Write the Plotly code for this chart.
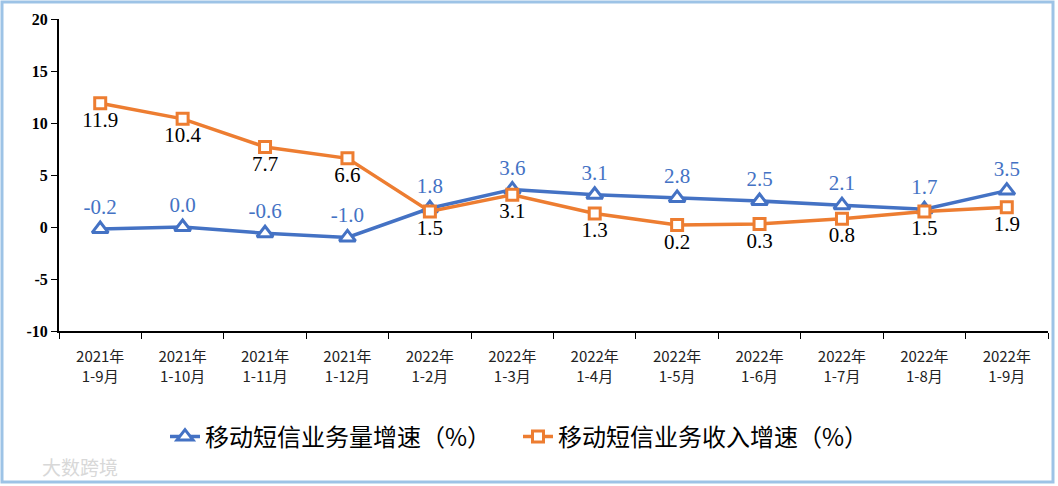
import plotly.graph_objects as go

categories = ["2021年<br>1-9月", "2021年<br>1-10月", "2021年<br>1-11月", "2021年<br>1-12月",
              "2022年<br>1-2月", "2022年<br>1-3月", "2022年<br>1-4月", "2022年<br>1-5月",
              "2022年<br>1-6月", "2022年<br>1-7月", "2022年<br>1-8月", "2022年<br>1-9月"]
volume_growth = [-0.2, 0.0, -0.6, -1.0, 1.8, 3.6, 3.1, 2.8, 2.5, 2.1, 1.7, 3.5]
revenue_growth = [11.9, 10.4, 7.7, 6.6, 1.5, 3.1, 1.3, 0.2, 0.3, 0.8, 1.5, 1.9]
series_names = ["移动短信业务量增速（%）", "移动短信业务收入增速（%）"]
y_tick_values = [-10, -5, 0, 5, 10, 15, 20]
y_tick_labels = ["-10", "-5", "0", "5", "10", "15", "20"]

BLUE = "#4472C4"
ORANGE = "#ED7D31"

W, H = 1058, 486
L, R, T, B = 59, 10, 19, 155
PW, PH = W - L - R, H - T - B

def px_x(p):
    return (p - L) / PW

def px_y(p):
    return (H - B - p) / PH

fig = go.Figure()
fig.add_trace(go.Scatter(
    x=categories, y=volume_growth, name=series_names[0],
    mode="lines+markers+text",
    text=[f"{v:.1f}" for v in volume_growth], textposition="top center",
    textfont=dict(family="Liberation Serif", size=21, color=BLUE),
    line=dict(color=BLUE, width=3.5),
    marker=dict(symbol="triangle-up", size=14, color="white", line=dict(color=BLUE, width=3)),
))
fig.add_trace(go.Scatter(
    x=categories, y=revenue_growth, name=series_names[1],
    mode="lines+markers+text",
    text=[f"{v:.1f}" for v in revenue_growth], textposition="bottom center",
    textfont=dict(family="Liberation Serif", size=21, color="black"),
    line=dict(color=ORANGE, width=3.5),
    marker=dict(symbol="square", size=11, color="white", line=dict(color=ORANGE, width=3)),
))

fig.update_layout(
    width=W, height=H,
    margin=dict(l=L, r=R, t=T, b=B, autoexpand=False),
    paper_bgcolor="white", plot_bgcolor="white",
    showlegend=True,
    legend=dict(orientation="h", x=px_x(165), xanchor="left", y=px_y(437), yanchor="middle",
                font=dict(family="Noto Sans CJK SC", size=24, color="black"),
                entrywidth=308, tracegroupgap=0),
    xaxis=dict(range=[-0.5, 11.5], showline=True, linecolor="black", linewidth=2, ticks="outside",
               tickson="boundaries", ticklen=6, tickcolor="black", tickwidth=1,
               showgrid=False, zeroline=False, ticklabelstandoff=11,
               tickfont=dict(family="Noto Sans CJK SC", size=15, color="#222222")),
    yaxis=dict(range=[-10, 20], tickvals=y_tick_values,
               ticktext=[f"<b>{t}</b>" for t in y_tick_labels],
               showline=True, linecolor="black", linewidth=2,
               ticks="outside", ticklen=6, tickcolor="black", showgrid=False, zeroline=False,
               tickfont=dict(family="Liberation Serif", size=16, color="black")),
)

# outer frame
fig.add_shape(type="rect", xref="paper", yref="paper",
              x0=px_x(2), x1=px_x(1053), y0=px_y(482), y1=px_y(2),
              line=dict(color="#9DC3E6", width=3), fillcolor="rgba(0,0,0,0)")

# watermark
fig.add_annotation(text="大数跨境", xref="paper", yref="paper", x=px_x(40), y=px_y(466),
                   xanchor="left", yanchor="middle", showarrow=False,
                   font=dict(family="Noto Sans CJK SC", size=19, color="#D8D8D8"))

fig.write_html("out.html", config={"displayModeBar": False},
               post_script="document.body.style.margin='0';")
